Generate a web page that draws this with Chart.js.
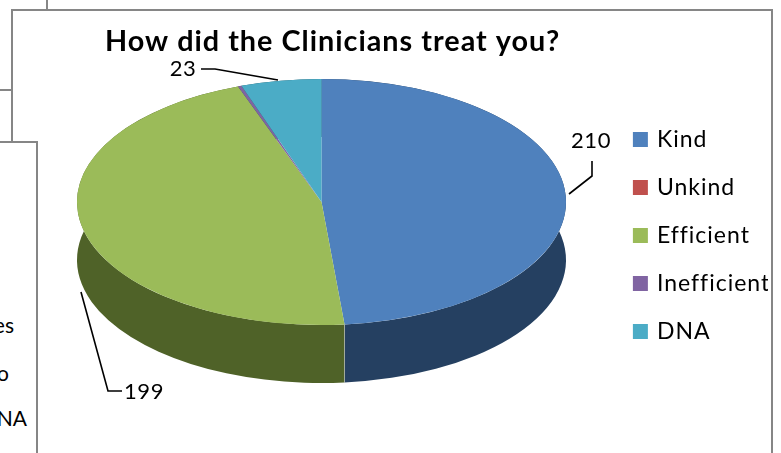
<!DOCTYPE html>
<html>
<head>
<meta charset="utf-8">
<style>
  html, body { margin: 0; padding: 0; background: #fff; width: 781px; height: 453px; overflow: hidden; }
  .rule { position: absolute; background: #868686; }
  .frag { position: absolute; font: 21px Lato, sans-serif; color: #000; white-space: nowrap; line-height: 24px; }
  #pie { position: absolute; left: 0; top: 0; }
</style>
</head>
<body>
<!-- bits of the neighbouring boxes in the document -->
<div class="rule" style="left:46px;top:0;width:2px;height:11px"></div>
<div class="rule" style="left:12px;top:9px;width:761px;height:2px"></div>
<div class="rule" style="left:11px;top:9px;width:2px;height:133px"></div>
<div class="rule" style="left:0;top:89px;width:12px;height:2px"></div>
<div class="rule" style="left:0;top:141px;width:37px;height:2px"></div>
<div class="rule" style="left:36px;top:141px;width:2px;height:312px"></div>
<div class="rule" style="left:771px;top:9px;width:2px;height:444px"></div>
<div class="frag" style="right:767px;top:313px">es</div>
<div class="frag" style="right:772px;top:361px">o</div>
<div class="frag" style="right:754px;top:406px">NA</div>
<canvas id="pie" width="781" height="453"></canvas>

<script src="https://cdn.jsdelivr.net/npm/chart.js@4"></script>
<script>
const categories = ['Kind', 'Unkind', 'Efficient', 'Inefficient', 'DNA'];
const counts = [210, 0, 199, 1, 23];
const topColors = ['#4F81BD', '#C0504D', '#9BBB59', '#8064A2', '#4BACC6'];
const sideColors = ['#254061', '#632523', '#4F6228', '#3F3151', '#205867'];

// where the squashed pie sits on the page
const CX = 321.5, CY = 202, RX = 244.5, RY = 123, DEPTH = 58;

// data label text spot + leader line, by category index
const callouts = {
    0: { x: 591, y: 141, line: [[569, 194], [592, 176], [592, 161]] },
    2: { x: 144, y: 392, line: [[81, 292], [108, 391], [122, 391]] },
    4: { x: 183, y: 69, line: [[201, 69], [215, 69], [278, 80]] }
};

const pie3d = {
    id: 'pie3d',
    beforeDraw(chart) {
        chart.ctx.letterSpacing = '1px'; // canvas resets this on resize, so set it here
    },
    beforeDatasetsDraw(chart) {
        const ctx = chart.ctx;
        const arcs = chart.getDatasetMeta(0).data;
        // walls first, the top gets painted over them
        arcs.forEach((arc, i) => {
            if (!counts[i]) return;
            ctx.beginPath();
            ctx.ellipse(CX, CY, RX, RY, 0, arc.startAngle, arc.endAngle);
            ctx.ellipse(CX, CY + DEPTH, RX, RY, 0, arc.endAngle, arc.startAngle, true);
            ctx.closePath();
            ctx.fillStyle = sideColors[i];
            ctx.fill();
        });
        // faint seam where two walls meet at the front
        ctx.strokeStyle = 'rgba(255,255,255,0.35)';
        ctx.lineWidth = 1;
        arcs.forEach((arc, i) => {
            if (!counts[i] || Math.sin(arc.startAngle) <= 0) return;
            const sx = CX + RX * Math.cos(arc.startAngle), sy = CY + RY * Math.sin(arc.startAngle);
            ctx.beginPath();
            ctx.moveTo(sx, sy);
            ctx.lineTo(sx, sy + DEPTH);
            ctx.stroke();
        });
        const a = arcs[0];
        ctx.save();
        ctx.translate(CX, CY);
        ctx.scale(RX / a.outerRadius, RY / a.outerRadius);
        ctx.translate(-a.x, -a.y);
    },
    afterDatasetsDraw(chart) {
        const ctx = chart.ctx;
        ctx.restore();
        ctx.font = '22px Lato, sans-serif';
        ctx.letterSpacing = '0.5px';
        ctx.fillStyle = '#000';
        ctx.strokeStyle = '#000';
        ctx.lineWidth = 1.6;
        ctx.textAlign = 'center';
        ctx.textBaseline = 'middle';
        Object.keys(callouts).forEach(i => {
            const c = callouts[i];
            ctx.fillText(String(counts[i]), c.x, c.y);
            ctx.beginPath();
            c.line.forEach((p, k) => k ? ctx.lineTo(p[0], p[1]) : ctx.moveTo(p[0], p[1]));
            ctx.stroke();
        });
    }
};

new Chart(document.getElementById('pie'), {
    type: 'pie',
    data: {
        labels: categories,
        datasets: [{ data: counts, backgroundColor: topColors, borderWidth: 0, clip: false }]
    },
    options: {
        responsive: false,
        animation: false,
        devicePixelRatio: 1,
        layout: { padding: { left: 105, right: 13, top: 22, bottom: 85 } },
        plugins: {
            tooltip: { enabled: false },
            title: {
                display: true,
                text: 'How did the Clinicians treat you?',
                align: 'start',
                color: '#000',
                font: { family: 'Lato, sans-serif', size: 28.8, weight: 'bold' },
                padding: { top: 2, bottom: 4 }
            },
            legend: {
                position: 'right',
                align: 'end',
                labels: {
                    color: '#000',
                    font: { family: 'Lato, sans-serif', size: 23 },
                    boxWidth: 10,
                    boxHeight: 10,
                    padding: 25,
                    generateLabels(chart) {
                        const base = Chart.controllers.pie.overrides.plugins.legend.labels.generateLabels(chart);
                        return base.map(it => ({ ...it, lineWidth: 5, strokeStyle: it.fillStyle, hidden: false }));
                    }
                }
            }
        }
    },
    plugins: [pie3d]
});
</script>
</body>
</html>
